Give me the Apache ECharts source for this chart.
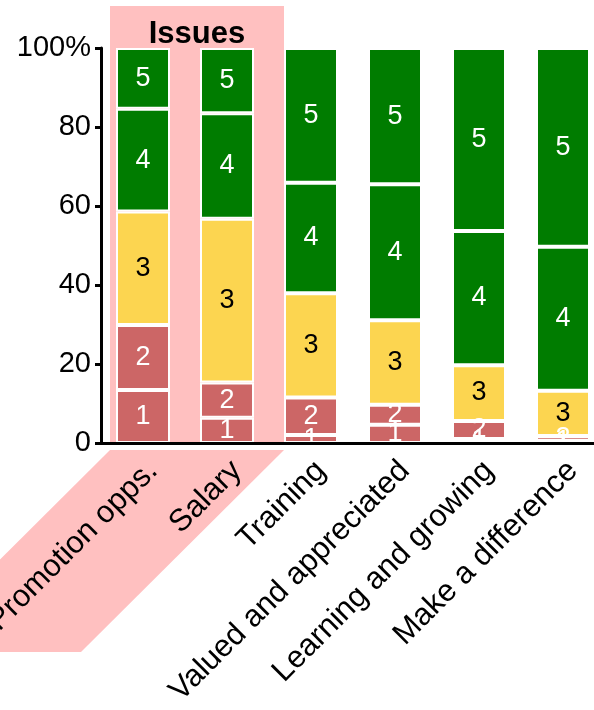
<!DOCTYPE html>
<html><head><meta charset="utf-8">
<script src="https://cdn.jsdelivr.net/npm/echarts@6/dist/echarts.min.js"></script>
<style>html,body{margin:0;padding:0;background:#fff}#c{width:594px;height:710px}</style>
</head><body><div id="c"></div>
<script>
const categories = ['Promotion opps.', 'Salary', 'Training', 'Valued and appreciated', 'Learning and growing', 'Make a difference'];
const level1 = [13.4, 6.4, 2.0, 4.6, 1.0, 0.6];
const level2 = [16.5, 8.9, 9.5, 5.1, 4.6, 1.2];
const level3 = [28.7, 41.5, 26.4, 21.4, 14.1, 11.4];
const level4 = [26.0, 26.7, 28.0, 34.4, 34.0, 36.5];
const level5 = [15.4, 16.5, 34.1, 34.5, 46.3, 50.3];
const seriesNames = ['1', '2', '3', '4', '5'];
const yTicks = [0, 20, 40, 60, 80, 100];

const FONT = 'Liberation Sans, Arial, Helvetica, sans-serif';
const colors = ['#cc6666', '#cc6666', '#fcd550', '#007c00', '#007c00'];
const labelColors = ['#fff', '#fff', '#000', '#fff', '#fff'];
const allData = [level1, level2, level3, level4, level5];

const chart = echarts.init(document.getElementById('c'), null, {renderer: 'canvas'});
chart.setOption({
  animation: false,
  backgroundColor: '#fff',
  grid: {left: 101, width: 504, top: 48, height: 395, containLabel: false, outerBoundsMode: 'none'},
  graphic: [
    {type: 'rect', z: -10, shape: {x: 110, y: 6, width: 174, height: 437}, style: {fill: '#ffc0c0'}},
    {type: 'polygon', z: -10, shape: {points: [[110, 450], [284, 450], [81, 652], [-93, 652]]}, style: {fill: '#ffc0c0'}},
    {type: 'text', z: 10, x: 197, y: 34, style: {text: 'Issues', font: 'bold 31px ' + FONT, fill: '#000', textAlign: 'center', textVerticalAlign: 'middle'}}
  ],
  xAxis: {
    type: 'category', data: categories, z: 10,
    axisLine: {lineStyle: {color: '#000', width: 3}},
    axisTick: {show: false},
    axisLabel: {rotate: 45, margin: 33, padding: [0, -14, 0, 0], fontSize: 31, color: '#000', fontFamily: FONT, interval: 0}
  },
  yAxis: {
    type: 'value', min: 0, max: 100, interval: 20,
    axisLine: {show: true, lineStyle: {color: '#000', width: 3}},
    axisTick: {show: true, length: 6, lineStyle: {color: '#000', width: 3}},
    splitLine: {show: false},
    axisLabel: {fontSize: 29, color: '#000', fontFamily: FONT, margin: 10,
      formatter: v => yTicks.includes(v) ? (v === 100 ? '100%' : String(v)) : ''}
  },
  series: allData.map((d, i) => ({
    name: seriesNames[i], type: 'bar', stack: 'all', data: d, barWidth: 54,
    itemStyle: {color: colors[i], borderColor: '#fff', borderWidth: 2},
    label: {show: true, position: 'inside', formatter: seriesNames[i], fontSize: 27, color: labelColors[i], fontFamily: FONT}
  }))
});
</script></body></html>
